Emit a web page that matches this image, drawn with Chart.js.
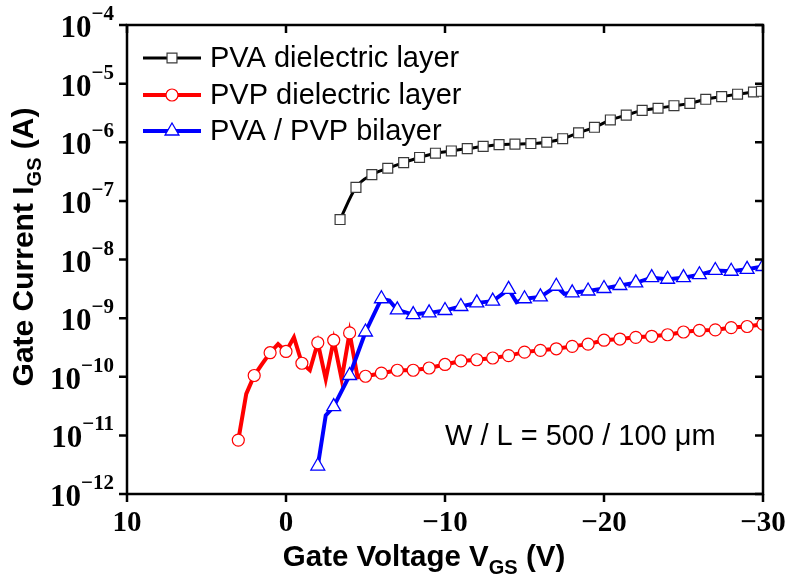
<!DOCTYPE html>
<html>
<head>
<meta charset="utf-8">
<script src="https://cdn.jsdelivr.net/npm/chart.js"></script>
<style>
  body { margin: 0; background: #fff; }
  canvas { display: block; }
</style>
</head>
<body>
<canvas id="myChart" width="789" height="588"></canvas>
<script>
// PVA dielectric layer (black squares)
const vgsPva = [-3.4, -4.4, -5.4, -6.4, -7.4, -8.4, -9.4, -10.4, -11.4, -12.4, -13.4, -14.4, -15.4, -16.4,
  -17.4, -18.4, -19.4, -20.4, -21.4, -22.4, -23.4, -24.4, -25.4, -26.4, -27.4, -28.4, -29.4, -29.9];
const igsPva = [4.8e-8, 1.7e-7, 2.8e-7, 3.6e-7, 4.5e-7, 5.5e-7, 6.5e-7, 7.1e-7, 7.8e-7, 8.5e-7, 9.1e-7, 9.3e-7,
  9.5e-7, 1.0e-6, 1.15e-6, 1.45e-6, 1.8e-6, 2.4e-6, 2.9e-6, 3.5e-6, 3.8e-6, 4.2e-6, 4.6e-6, 5.4e-6, 6.0e-6,
  6.6e-6, 7.2e-6, 7.4e-6];

// PVP dielectric layer (red circles)
const vgsPvp = [3, 2.5, 2, 1.5, 1, 0.5, 0, -0.5, -1, -1.5, -2, -2.5, -3, -3.5, -4, -4.5, -5, -6, -7, -8, -9,
  -10, -11, -12, -13, -14, -15, -16, -17, -18, -19, -20, -21, -22, -23, -24, -25, -26, -27, -28, -29, -30];
const igsPvp = [8.3e-12, 5.1e-11, 1.05e-10, 1.66e-10, 2.57e-10, 3.6e-10, 2.7e-10, 4.7e-10, 1.7e-10, 1.29e-10,
  3.8e-10, 9.1e-11, 4.2e-10, 9.1e-11, 5.6e-10, 9.8e-11, 1.02e-10, 1.15e-10, 1.29e-10, 1.29e-10, 1.41e-10,
  1.62e-10, 1.86e-10, 1.95e-10, 2.09e-10, 2.29e-10, 2.63e-10, 2.82e-10, 3.0e-10, 3.3e-10, 3.6e-10, 4.2e-10,
  4.4e-10, 4.7e-10, 4.9e-10, 5.2e-10, 5.8e-10, 6.2e-10, 6.3e-10, 6.9e-10, 7.2e-10, 7.9e-10];

// PVA / PVP bilayer (blue triangles)
const vgsBi = [-2, -2.5, -3, -4, -5, -6, -6.5, -7, -8, -9, -10, -11, -12, -13, -14, -14.5, -15, -16, -17, -17.5,
  -18, -19, -20, -21, -22, -23, -24, -25, -26, -27, -28, -29, -30];
const igsBi = [3.0e-12, 2.2e-11, 3.1e-11, 1.05e-10, 5.8e-10, 2.14e-9, 2.0e-9, 1.38e-9, 1.15e-9, 1.23e-9, 1.35e-9,
  1.58e-9, 1.82e-9, 1.95e-9, 3.1e-9, 1.86e-9, 2.14e-9, 2.3e-9, 3.5e-9, 2.6e-9, 2.7e-9, 2.9e-9, 3.2e-9, 3.6e-9,
  4.0e-9, 4.9e-9, 4.6e-9, 4.9e-9, 5.5e-9, 6.5e-9, 6.3e-9, 6.8e-9, 7.6e-9];

const seriesNames = ['PVA dielectric layer', 'PVP dielectric layer', 'PVA / PVP bilayer'];
const xTicks = [10, 0, -10, -20, -30];
const yExponents = [-4, -5, -6, -7, -8, -9, -10, -11, -12];
const note = 'W / L = 500 / 100 \u03bcm';

function pairs(xs, ys) {
  return xs.map((v, i) => ({ x: v, y: ys[i] }));
}

// marker only on whole-volt points
function markerRadius(r) {
  return ctx => (Number.isInteger(ctx.raw.x) || ctx.datasetIndex === 0) ? r : 0;
}

function minus(v) {
  return v < 0 ? '\u2212' + Math.abs(v) : String(v);
}

function drawMarker(ctx, style, x, y, r) {
  ctx.beginPath();
  if (style === 'rect') {
    const s = r * Math.SQRT1_2;
    ctx.rect(x - s, y - s, 2 * s, 2 * s);
  } else if (style === 'circle') {
    ctx.arc(x, y, r, 0, Math.PI * 2);
  } else {
    ctx.moveTo(x, y - r);
    ctx.lineTo(x + r * Math.sin(Math.PI * 2 / 3), y - r * Math.cos(Math.PI * 2 / 3));
    ctx.lineTo(x + r * Math.sin(Math.PI * 4 / 3), y - r * Math.cos(Math.PI * 4 / 3));
    ctx.closePath();
  }
  ctx.fill();
  ctx.stroke();
}

// text with a subscript part: parts = [[text, isSub], ...]
function drawParts(ctx, parts, x, y, size, subSize, subShift) {
  let w = 0;
  parts.forEach(p => {
    ctx.font = 'bold ' + (p[1] ? subSize : size) + 'px "Liberation Sans", Arial, sans-serif';
    w += ctx.measureText(p[0]).width;
  });
  let cx = x - w / 2;
  ctx.textAlign = 'left';
  ctx.textBaseline = 'alphabetic';
  parts.forEach(p => {
    ctx.font = 'bold ' + (p[1] ? subSize : size) + 'px "Liberation Sans", Arial, sans-serif';
    ctx.fillText(p[0], cx, p[1] ? y + subShift : y);
    cx += ctx.measureText(p[0]).width;
  });
}

const decorations = {
  id: 'decorations',
  afterDraw(chart) {
    const ctx = chart.ctx;
    const a = chart.chartArea;
    const xs = chart.scales.x, ys = chart.scales.y;
    ctx.save();
    ctx.fillStyle = '#000';
    ctx.strokeStyle = '#000';

    // frame
    ctx.lineWidth = 2.5;
    ctx.strokeRect(a.left, a.top, a.right - a.left, a.bottom - a.top);

    // x ticks (out at bottom, in at top) + labels
    ctx.lineWidth = 2.5;
    ctx.font = 'bold 29px "Liberation Serif", "Times New Roman", serif';
    ctx.textAlign = 'center';
    ctx.textBaseline = 'middle';
    xTicks.forEach(v => {
      const px = xs.getPixelForValue(v);
      ctx.beginPath();
      ctx.moveTo(px, a.bottom); ctx.lineTo(px, a.bottom + 8);
      ctx.moveTo(px, a.top); ctx.lineTo(px, a.top + 8);
      ctx.stroke();
      ctx.fillText(minus(v), px, a.bottom + 30);
    });

    // y ticks (out at left, in at right) + labels 10^n
    yExponents.forEach(e => {
      const py = ys.getPixelForValue(Math.pow(10, e));
      ctx.beginPath();
      ctx.moveTo(a.left, py); ctx.lineTo(a.left - 8, py);
      ctx.moveTo(a.right, py); ctx.lineTo(a.right - 8, py);
      ctx.stroke();
      ctx.textAlign = 'right';
      ctx.textBaseline = 'alphabetic';
      ctx.font = 'bold 21px "Liberation Serif", "Times New Roman", serif';
      const sup = minus(e);
      const supW = ctx.measureText(sup).width;
      const right = a.left - 13;
      ctx.fillText(sup, right, py - 5);
      ctx.font = 'bold 31px "Liberation Serif", "Times New Roman", serif';
      ctx.fillText('10', right - supW, py + 12);
    });

    // axis titles
    drawParts(ctx, [['Gate Voltage V', false], ['GS', true], [' (V)', false]], 424, 566, 29.5, 20, 8);
    ctx.save();
    ctx.translate(33, 247);
    ctx.rotate(-Math.PI / 2);
    drawParts(ctx, [['Gate Current I', false], ['GS', true], [' (A)', false]], 0, 0, 30, 20, 8);
    ctx.restore();

    // legend
    const rows = [58, 95, 131];
    chart.data.datasets.forEach((ds, i) => {
      const y = rows[i];
      ctx.strokeStyle = ds.borderColor;
      ctx.lineWidth = ds.borderWidth;
      ctx.beginPath();
      ctx.moveTo(143, y); ctx.lineTo(201, y);
      ctx.stroke();
      ctx.fillStyle = '#fff';
      ctx.strokeStyle = ds.pointBorderColor;
      ctx.lineWidth = ds.pointBorderWidth;
      drawMarker(ctx, ds.pointStyle, 172, y, ds.legendRadius);
      ctx.fillStyle = '#000';
      ctx.font = '29px "Liberation Sans", Arial, sans-serif';
      ctx.textAlign = 'left';
      ctx.textBaseline = 'middle';
      ctx.fillText(ds.label, 210, y + 1);
    });

    // device note
    ctx.font = '29px "Liberation Sans", Arial, sans-serif';
    ctx.textAlign = 'left';
    ctx.textBaseline = 'middle';
    ctx.fillText(note, 445, 437);
    ctx.restore();
  }
};

new Chart(document.getElementById('myChart').getContext('2d'), {
  type: 'line',
  data: {
    datasets: [
      {
        label: seriesNames[0],
        data: pairs(vgsPva, igsPva),
        borderColor: '#000000',
        borderWidth: 3,
        pointStyle: 'rect',
        pointRadius: 7,
        legendRadius: 7,
        pointBackgroundColor: '#ffffff',
        pointBorderColor: '#3a3a3a',
        pointBorderWidth: 1.2,
        cubicInterpolationMode: 'monotone',
        order: 2
      },
      {
        label: seriesNames[1],
        data: pairs(vgsPvp, igsPvp),
        borderColor: '#ff0000',
        borderWidth: 4,
        pointStyle: 'circle',
        pointRadius: markerRadius(6),
        legendRadius: 6,
        pointBackgroundColor: '#ffffff',
        pointBorderColor: '#ff0000',
        pointBorderWidth: 1.2,
        order: 1
      },
      {
        label: seriesNames[2],
        data: pairs(vgsBi, igsBi),
        borderColor: '#0000ff',
        borderWidth: 4,
        pointStyle: 'triangle',
        pointRadius: markerRadius(8),
        legendRadius: 8,
        pointBackgroundColor: '#ffffff',
        pointBorderColor: '#0000ff',
        pointBorderWidth: 1.3,
        order: 0
      }
    ]
  },
  options: {
    responsive: false,
    animation: false,
    layout: { padding: { left: 127, right: 26, top: 25, bottom: 94 } },
    plugins: { legend: { display: false }, tooltip: { enabled: false } },
    scales: {
      x: { type: 'linear', min: -30, max: 10, reverse: true, display: false },
      y: { type: 'logarithmic', min: 1e-12, max: 1e-4, display: false }
    }
  },
  plugins: [decorations]
});
</script>
</body>
</html>
